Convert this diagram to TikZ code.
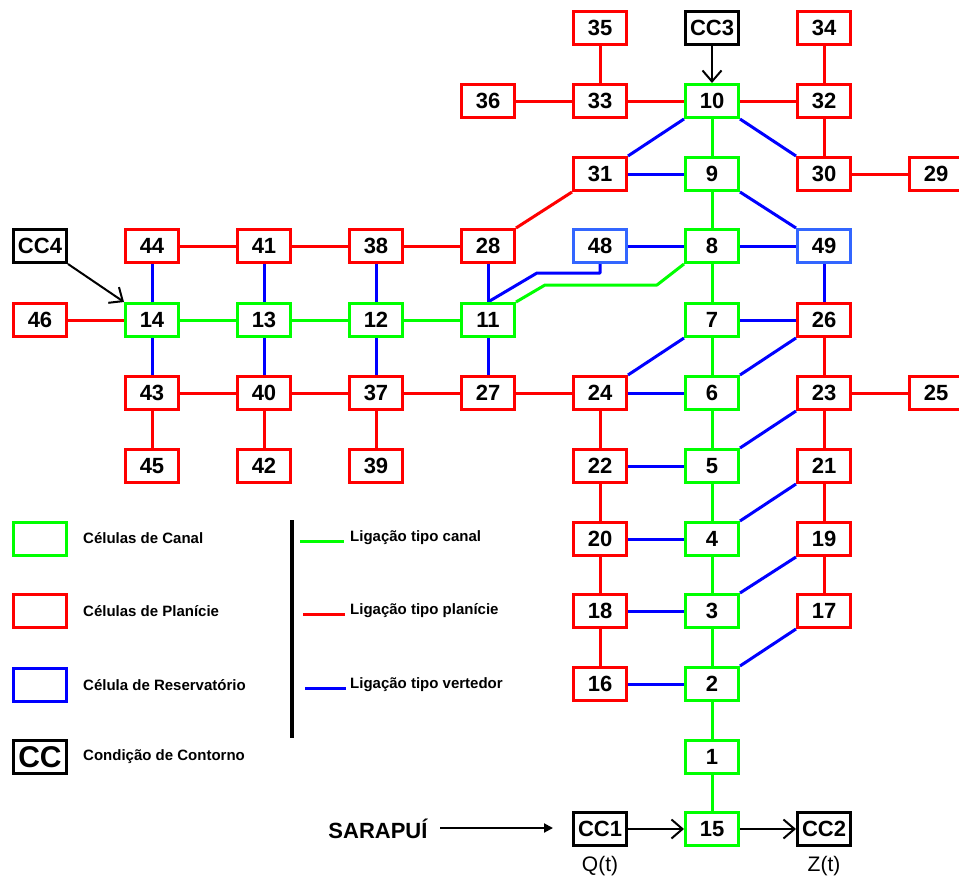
\documentclass[tikz,border=0pt]{standalone}
\usepackage{fontspec}
\setmainfont{Liberation Sans}
\usetikzlibrary{arrows.meta,backgrounds}
\definecolor{cgreen}{RGB}{0,255,0}
\definecolor{cred}{RGB}{255,0,0}
\definecolor{cblue}{RGB}{0,0,255}
\definecolor{cres}{RGB}{51,102,255}
\begin{document}
\begin{tikzpicture}[x=1pt,y=-1pt,
 cell/.style={draw, line width=3pt, minimum width=53pt, minimum height=33pt, inner sep=0pt, fill=white, font=\fontsize{22}{22}\selectfont\bfseries},
 canal/.style={cell,draw=cgreen},
 plan/.style={cell,draw=cred},
 res/.style={cell,draw=cres},
 ccb/.style={cell,draw=black},
 lc/.style={draw=cgreen,line width=3pt,line join=round},
 lp/.style={draw=cred,line width=3pt,line join=round},
 lv/.style={draw=cblue,line width=3pt,line join=round},
 arr/.style={draw=black,line width=2pt,-{Straight Barb[length=11pt,width=19pt]}},
 leglab/.style={anchor=west,inner sep=0pt,font=\fontsize{15}{15}\selectfont\bfseries},
]
\useasboundingbox (0,0) rectangle (959,881);
% top rows
\node[plan] (n35) at (600,28) {35};
\node[plan] (n34) at (824,28) {34};
\node[ccb] (cc3) at (712,28) {CC3};
\node[plan] (n36) at (488,101) {36};
\node[plan] (n33) at (600,101) {33};
\node[canal] (n10) at (712,101) {10};
\node[plan] (n32) at (824,101) {32};
\node[plan] (n31) at (600,174) {31};
\node[canal] (n9) at (712,174) {9};
\node[plan] (n30) at (824,174) {30};
\node[plan] (n29) at (936,174) {29};
\node[ccb] (cc4) at (40,246) {CC4};
\node[plan] (n44) at (152,246) {44};
\node[plan] (n41) at (264,246) {41};
\node[plan] (n38) at (376,246) {38};
\node[plan] (n28) at (488,246) {28};
\node[res] (n48) at (600,246) {48};
\node[canal] (n8) at (712,246) {8};
\node[res] (n49) at (824,246) {49};
\node[plan] (n46) at (40,320) {46};
\node[canal] (n14) at (152,320) {14};
\node[canal] (n13) at (264,320) {13};
\node[canal] (n12) at (376,320) {12};
\node[canal] (n11) at (488,320) {11};
\node[canal] (n7) at (712,320) {7};
\node[plan] (n26) at (824,320) {26};
\node[plan] (n43) at (152,393) {43};
\node[plan] (n40) at (264,393) {40};
\node[plan] (n37) at (376,393) {37};
\node[plan] (n27) at (488,393) {27};
\node[plan] (n24) at (600,393) {24};
\node[canal] (n6) at (712,393) {6};
\node[plan] (n23) at (824,393) {23};
\node[plan] (n25) at (936,393) {25};
\node[plan] (n45) at (152,466) {45};
\node[plan] (n42) at (264,466) {42};
\node[plan] (n39) at (376,466) {39};
\node[plan] (n22) at (600,466) {22};
\node[canal] (n5) at (712,466) {5};
\node[plan] (n21) at (824,466) {21};
\node[plan] (n20) at (600,539) {20};
\node[canal] (n4) at (712,539) {4};
\node[plan] (n19) at (824,539) {19};
\node[plan] (n18) at (600,611) {18};
\node[canal] (n3) at (712,611) {3};
\node[plan] (n17) at (824,611) {17};
\node[plan] (n16) at (600,684) {16};
\node[canal] (n2) at (712,684) {2};
\node[canal] (n1) at (712,757) {1};
\node[ccb] (cc1) at (600,829) {CC1};
\node[canal] (n15) at (712,829) {15};
\node[ccb] (cc2) at (824,829) {CC2};
\node[font=\fontsize{21}{21}\selectfont] (qt) at (600,866) {Q(t)};
\node[font=\fontsize{21}{21}\selectfont] (zt) at (824,866) {Z(t)};
\node[font=\fontsize{22}{22}\selectfont\bfseries] (sar) at (378,829) {SARAPUÍ};
% bend points
\coordinate (b1) at (545,285);
\coordinate (b2) at (657,285);
\coordinate (b3) at (537,273);
\coordinate (b4) at (600,273);
\coordinate (sa) at (440,828);
\coordinate (sb) at (553,828);
% legend
\node[cell,draw=cgreen] (lgc) at (40,539) {};
\node[cell,draw=cred] (lgp) at (40,611) {};
\node[cell,draw=cblue] (lgr) at (40,685) {};
\node[ccb,line width=3.5pt,font=\fontsize{30}{30}\selectfont\bfseries] (lgcc) at (40,757) {CC};
\node[leglab] (tc) at (83,538) {Células de Canal};
\node[leglab] (tp) at (83,611) {Células de Planície};
\node[leglab] (tr) at (83,685) {Célula de Reservatório};
\node[leglab] (tcc) at (83,757) {Condição de Contorno};
\coordinate (vb1) at (292,520);
\coordinate (vb2) at (292,738);
\draw[line width=3.5pt] (vb1) -- (vb2);
\node[leglab] (tlc) at (350,538) {Ligação tipo canal};
\node[leglab] (tlp) at (350,611) {Ligação tipo planície};
\node[leglab] (tlv) at (350,685) {Ligação tipo vertedor};
\coordinate (sc1) at (300,541);
\coordinate (sp1) at (303,614);
\coordinate (sv1) at (305,688);
\draw[lc] (sc1) -- ([xshift=-6pt]sc1 -| tlc.west);
\draw[lp] (sp1) -- ([xshift=-5pt]sp1 -| tlp.west);
\draw[lv] (sv1) -- ([xshift=-4pt]sv1 -| tlv.west);
% connectors
\begin{scope}[on background layer]
% plain (red)
\draw[lp] (n35) -- (n33);
\draw[lp] (n36) -- (n33);
\draw[lp] (n33) -- (n10);
\draw[lp] (n10) -- (n32);
\draw[lp] (n34) -- (n32);
\draw[lp] (n32) -- (n30);
\draw[lp] (n30) -- (n29);
\draw[lp] (n28.north east) -- (n31.south west);
\draw[lp] (n44) -- (n41);
\draw[lp] (n41) -- (n38);
\draw[lp] (n38) -- (n28);
\draw[lp] (n46) -- (n14);
\draw[lp] (n43) -- (n40);
\draw[lp] (n40) -- (n37);
\draw[lp] (n37) -- (n27);
\draw[lp] (n27) -- (n24);
\draw[lp] (n24) -- (n22);
\draw[lp] (n22) -- (n20);
\draw[lp] (n20) -- (n18);
\draw[lp] (n18) -- (n16);
\draw[lp] (n26) -- (n23);
\draw[lp] (n23) -- (n25);
\draw[lp] (n23) -- (n21);
\draw[lp] (n21) -- (n19);
\draw[lp] (n19) -- (n17);
\draw[lp] (n43) -- (n45);
\draw[lp] (n40) -- (n42);
\draw[lp] (n37) -- (n39);
% channel (green)
\draw[lc] (n10) -- (n9);
\draw[lc] (n9) -- (n8);
\draw[lc] (n8) -- (n7);
\draw[lc] (n7) -- (n6);
\draw[lc] (n6) -- (n5);
\draw[lc] (n5) -- (n4);
\draw[lc] (n4) -- (n3);
\draw[lc] (n3) -- (n2);
\draw[lc] (n2) -- (n1);
\draw[lc] (n1) -- (n15);
\draw[lc] (n14) -- (n13);
\draw[lc] (n13) -- (n12);
\draw[lc] (n12) -- (n11);
\draw[lc] (n11.north east) -- (b1) -- (b2) -- (n8.south west);
% weir (blue)
\draw[lv] (n10.south west) -- (n31.north east);
\draw[lv] (n10.south east) -- (n30.north west);
\draw[lv] (n31) -- (n9);
\draw[lv] (n9.south east) -- (n49.north west);
\draw[lv] (n48) -- (n8);
\draw[lv] (n8) -- (n49);
\draw[lv] (n49) -- (n26);
\draw[lv] (n7) -- (n26);
\draw[lv] (n7.south west) -- (n24.north east);
\draw[lv] (n24) -- (n6);
\draw[lv] (n6.north east) -- (n26.south west);
\draw[lv] (n5) -- (n22);
\draw[lv] (n5.north east) -- (n23.south west);
\draw[lv] (n4) -- (n20);
\draw[lv] (n4.north east) -- (n21.south west);
\draw[lv] (n3) -- (n18);
\draw[lv] (n3.north east) -- (n19.south west);
\draw[lv] (n2) -- (n16);
\draw[lv] (n2.north east) -- (n17.south west);
\draw[lv] (n44) -- (n14);
\draw[lv] (n14) -- (n43);
\draw[lv] (n41) -- (n13);
\draw[lv] (n13) -- (n40);
\draw[lv] (n38) -- (n12);
\draw[lv] (n12) -- (n37);
\draw[lv] (n28) -- (n11);
\draw[lv] (n11) -- (n27);
\draw[lv] (n11.north) -- (b3) -- (b4) -- (n48.south);
\end{scope}
% boundary arrows
\draw[arr] (cc3) -- (n10);
\draw[arr] (cc4.south east) -- (n14.north west);
\draw[arr] (cc1) -- (n15);
\draw[arr] (n15) -- (cc2);
\draw[draw=black,line width=2pt,-{Triangle[length=9pt,width=9pt]}] (sa) -- (sb);
\end{tikzpicture}
\end{document}
